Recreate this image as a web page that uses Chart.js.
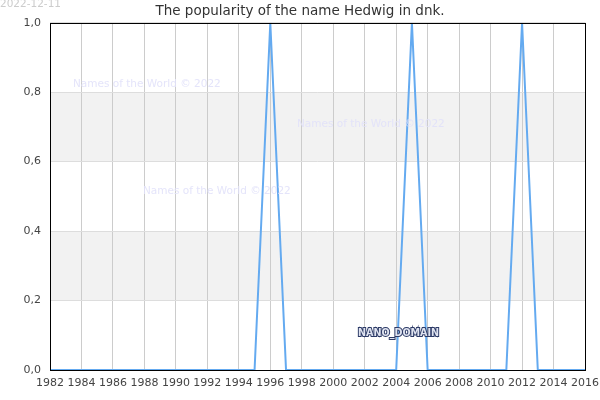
<!DOCTYPE html>
<html><head><meta charset="utf-8">
<script src="https://cdn.jsdelivr.net/npm/chart.js@4/dist/chart.umd.min.js"></script>
<style>html,body{margin:0;padding:0;background:#fff}#w{width:600px;height:400px}</style>
</head><body><div id="w"><canvas id="c" width="600" height="400"></canvas></div>
<script>
const years = [1982,1983,1984,1985,1986,1987,1988,1989,1990,1991,1992,1993,1994,1995,1996,1997,1998,1999,2000,2001,2002,2003,2004,2005,2006,2007,2008,2009,2010,2011,2012,2013,2014,2015,2016];
const popularity = [0,0,0,0,0,0,0,0,0,0,0,0,0,0,1,0,0,0,0,0,0,0,0,1,0,0,0,0,0,0,1,0,0,0,0];
const titleText = "The popularity of the name Hedwig in dnk.";
const dateText = "2022-12-11";
const watermarkText = "Names of the World © 2022";
const domainText = "NANO_DOMAIN";

const deco = {
  id: 'deco',
  beforeDraw(chart) {
    const {ctx, chartArea: a, scales: {y}} = chart;
    ctx.save();
    ctx.fillStyle = '#f2f2f2';
    [[0.2,0.4],[0.6,0.8]].forEach(([lo,hi]) => {
      const t = y.getPixelForValue(hi), b = y.getPixelForValue(lo);
      ctx.fillRect(a.left, t, a.right - a.left, b - t);
    });
    ctx.restore();
  },
  afterDraw(chart) {
    const {ctx, chartArea: a} = chart;
    ctx.save();
    ctx.font = '10.5px "DejaVu Sans"';
    ctx.fillStyle = '#cccccc';
    ctx.textBaseline = 'top';
    ctx.fillText(dateText, 0, -1);
    ctx.fillStyle = 'rgba(225,225,250,0.9)';
    ctx.textBaseline = 'middle';
    ctx.fillText(watermarkText, 73, 84);
    ctx.fillText(watermarkText, 297, 124);
    ctx.fillText(watermarkText, 143, 191);
    ctx.font = 'bold 9.6px "DejaVu Sans"';
    ctx.lineWidth = 2;
    ctx.strokeStyle = '#2c3a66';
    ctx.strokeText(domainText, 358, 333);
    ctx.fillStyle = '#dfe3f0';
    ctx.fillText(domainText, 358, 333);
    ctx.strokeStyle = '#000';
    ctx.lineWidth = 1;
    ctx.strokeRect(Math.round(a.left)+0.5, Math.round(a.top)+0.5, Math.round(a.right-a.left), Math.round(a.bottom-a.top));
    ctx.restore();
  }
};

new Chart(document.getElementById('c'), {
  type: 'line',
  data: {
    datasets: [{
      data: years.map((yr, i) => ({x: yr, y: popularity[i]})),
      borderColor: 'rgb(100,170,240)',
      borderWidth: 2,
      pointRadius: 0,
      tension: 0,
      fill: false
    }]
  },
  options: {
    responsive: false,
    animation: false,
    layout: {padding: 0},
    plugins: {
      legend: {display: false},
      tooltip: {enabled: false},
      title: {display: true, text: titleText, color: '#333', font: {family: 'DejaVu Sans', size: 13.5, weight: 'normal'}, padding: {top: 3, bottom: 3.5}}
    },
    scales: {
      x: {
        type: 'linear', min: 1982, max: 2016,
        ticks: {stepSize: 2, color: '#444', font: {family: 'DejaVu Sans', size: 11}, padding: 7, maxRotation: 0, autoSkip: false, callback: v => String(v)},
        grid: {color: '#cccccc', drawTicks: false},
        border: {display: false},
        afterFit(s) { s.height = 30; s.paddingRight = 15; s.paddingLeft = 0; }
      },
      y: {
        min: 0, max: 1,
        ticks: {stepSize: 0.2, color: '#444', font: {family: 'DejaVu Sans', size: 11}, padding: 9, callback: v => v.toFixed(1).replace('.', ',')},
        grid: {color: '#dddddd', drawTicks: false},
        border: {display: false},
        afterFit(s) { s.width = 50; }
      }
    }
  },
  plugins: [deco]
});
</script>
</body></html>
